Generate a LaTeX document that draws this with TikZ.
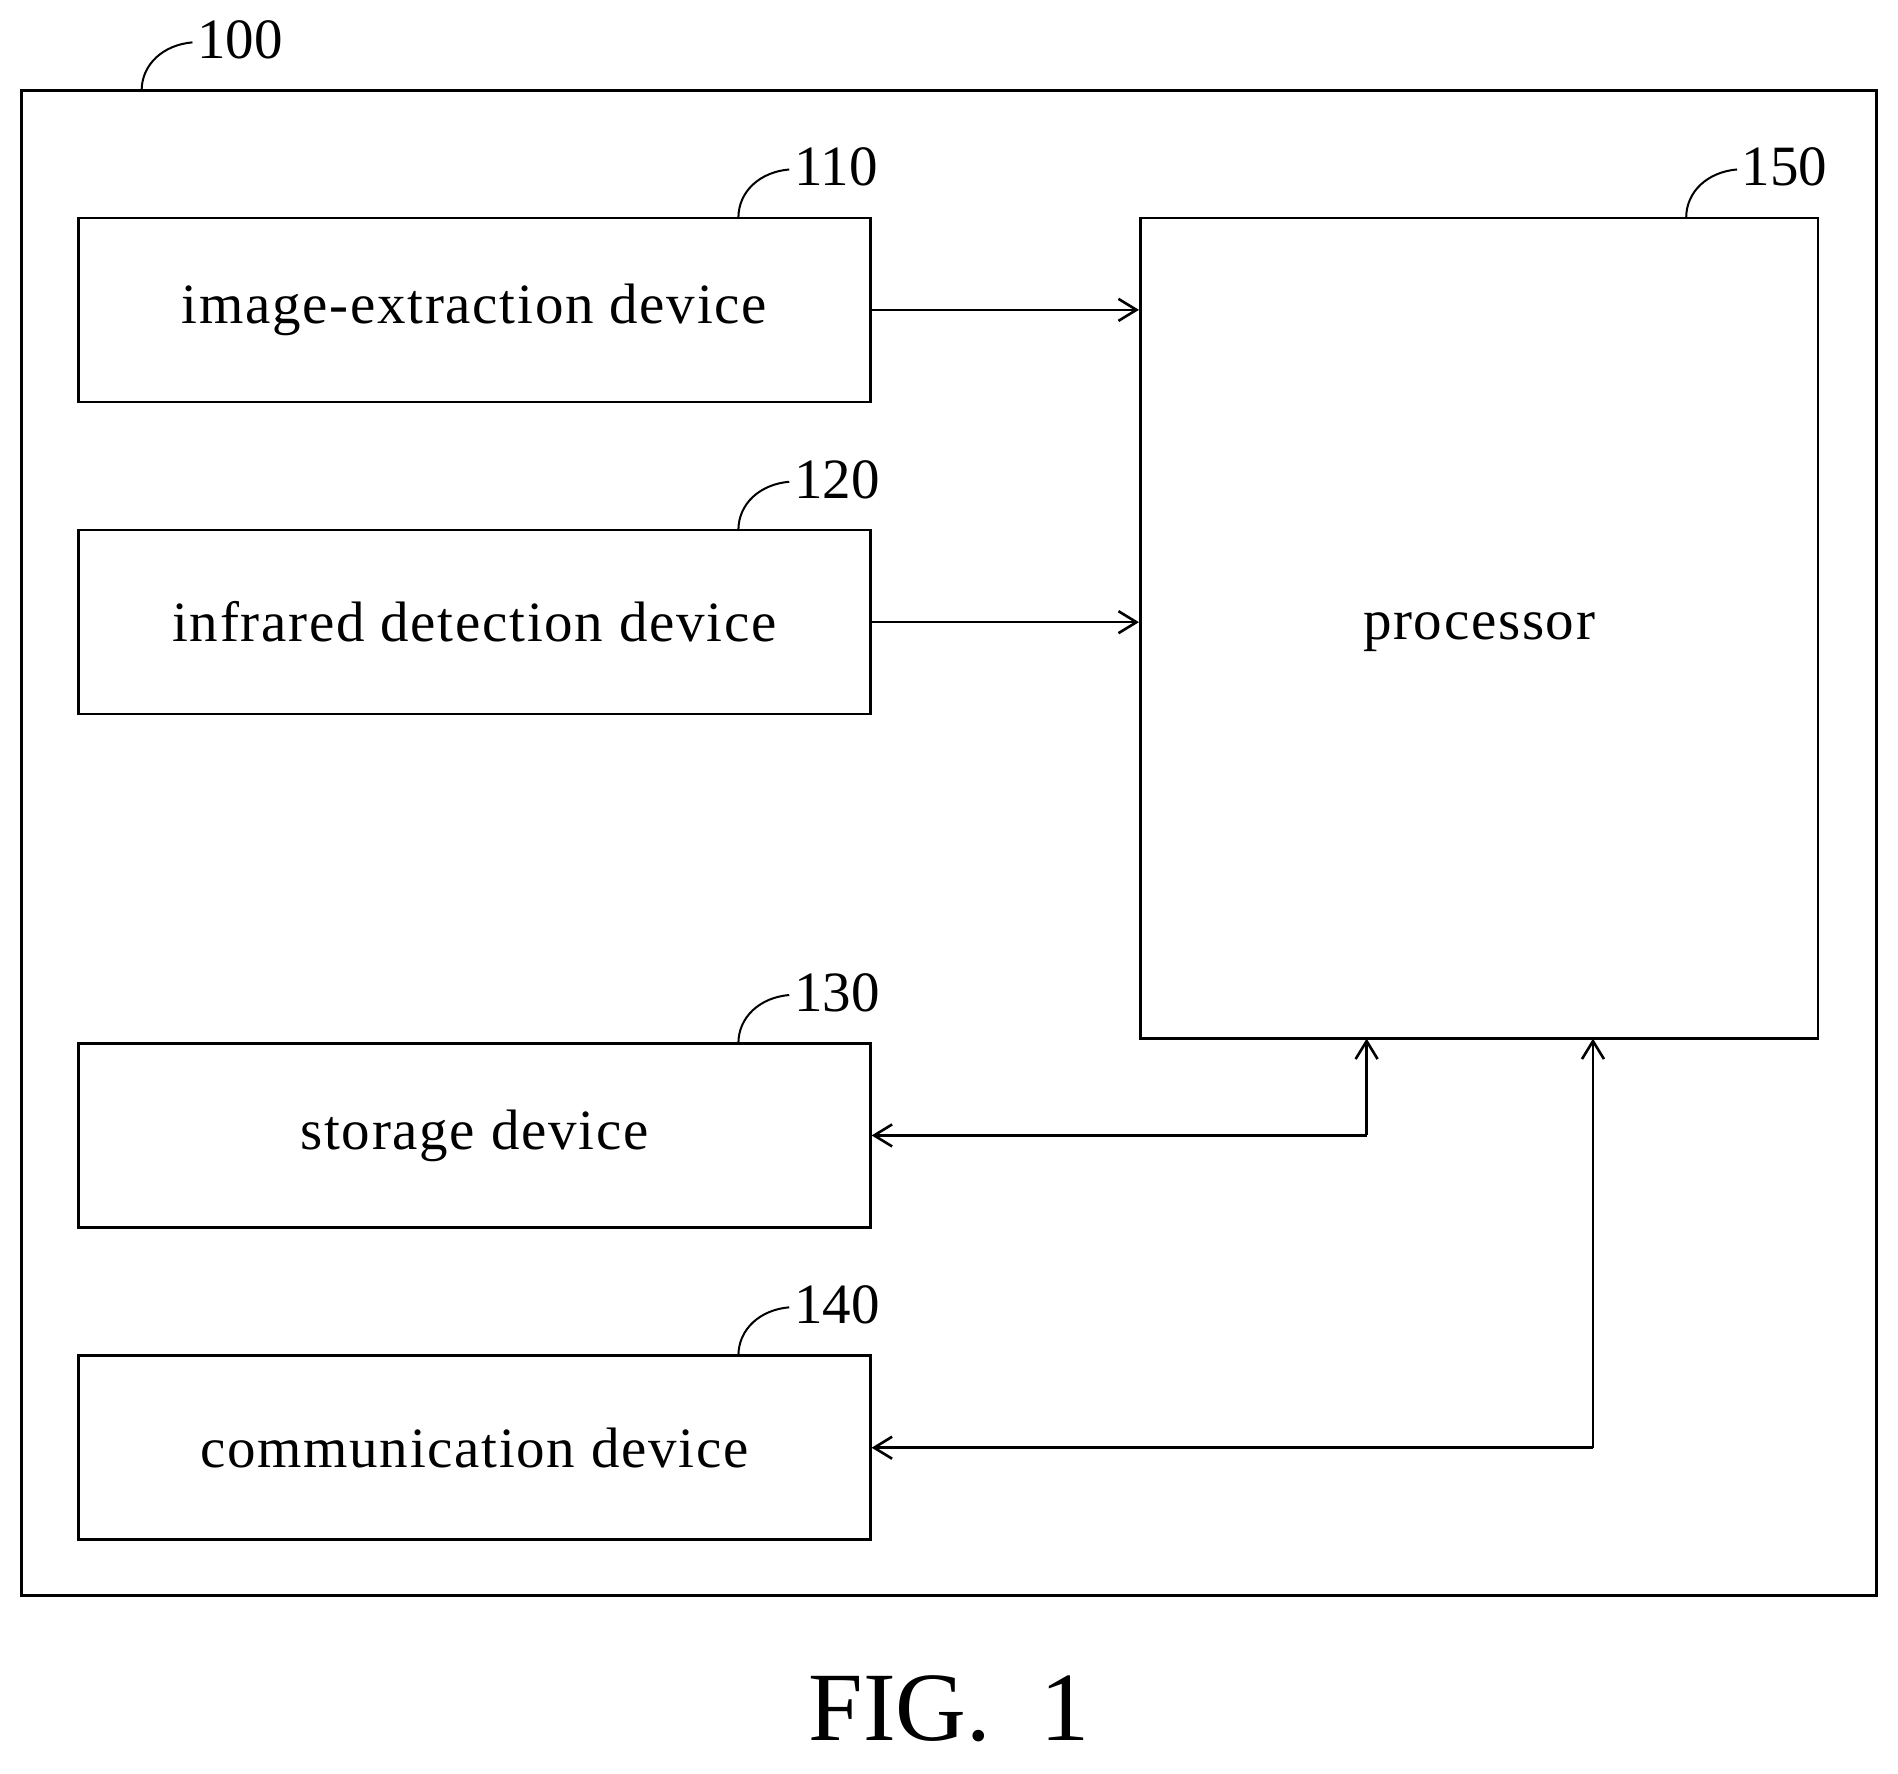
\documentclass[tikz,border=0pt]{standalone}
\usepackage{fontspec}
\setmainfont{Liberation Serif}
\usetikzlibrary{arrows.meta}
\begin{document}
\begin{tikzpicture}[x=1.2105pt,y=-1.2105pt,line width=2.6pt,
  box/.style={draw,minimum width=654*1.2105pt,minimum height=152*1.2105pt,font=\fontsize{57}{60}\selectfont,inner sep=0},
  arr/.style={-{Straight Barb[length=18pt,width=22pt,line width=2.6pt]}},
  lbl/.style={font=\fontsize{57}{60}\selectfont,anchor=west,inner sep=0}]
\useasboundingbox (0,0) rectangle (1568,1465);
\node[draw,minimum width=1532*1.2105pt,minimum height=1243*1.2105pt,inner sep=0] (outer) at (784,696.5) {};
\node[box] (b110) at (392,256) {\addfontfeature{LetterSpace=3}image-extraction device};
\node[box] (b120) at (392,514) {\addfontfeature{LetterSpace=3}infrared detection device};
\node[box] (b130) at (392,938) {\addfontfeature{LetterSpace=3}storage device};
\node[box] (b140) at (392,1196) {\addfontfeature{LetterSpace=3}communication device};
\node[draw,minimum width=560*1.2105pt,minimum height=678*1.2105pt,inner sep=0] (p) at (1222,519) {};
\node[font=\fontsize{57}{60}\selectfont\addfontfeature{LetterSpace=3}] (ptxt) at (1222,522) {processor};
\draw[arr] (b110.east) -- (p.west |- b110.east);
\draw[arr] (b120.east) -- (p.west |- b120.east);
\coordinate (c1) at (1129,938);
\coordinate (c2) at (1316,1196);
\draw[arr] (c1) -- (b130.east);
\draw[arr] (c1) -- (1129,858);
\draw[arr] (c2) -- (b140.east);
\draw[arr] (c2) -- (1316,858);
\foreach \n/\x/\y/\t in {l100/117/75/100, l110/610/180/110, l120/610/438/120, l130/610/862/130, l140/610/1120/140, l150/1393/180/150}{
  \coordinate (\n a) at (\x,\y);
  \coordinate (\n b) at (\x+42,\y-40);
  \draw[line width=2pt] (\n a) .. controls (\x,\y-22) and (\x+18,\y-38) .. (\n b);
  \node[lbl] (\n) at (\x+45,\y-42) {\t};
}
\node[font=\fontsize{98}{100}\selectfont] (fig) at (784,1412) {FIG.\ \ 1};
\end{tikzpicture}
\end{document}
